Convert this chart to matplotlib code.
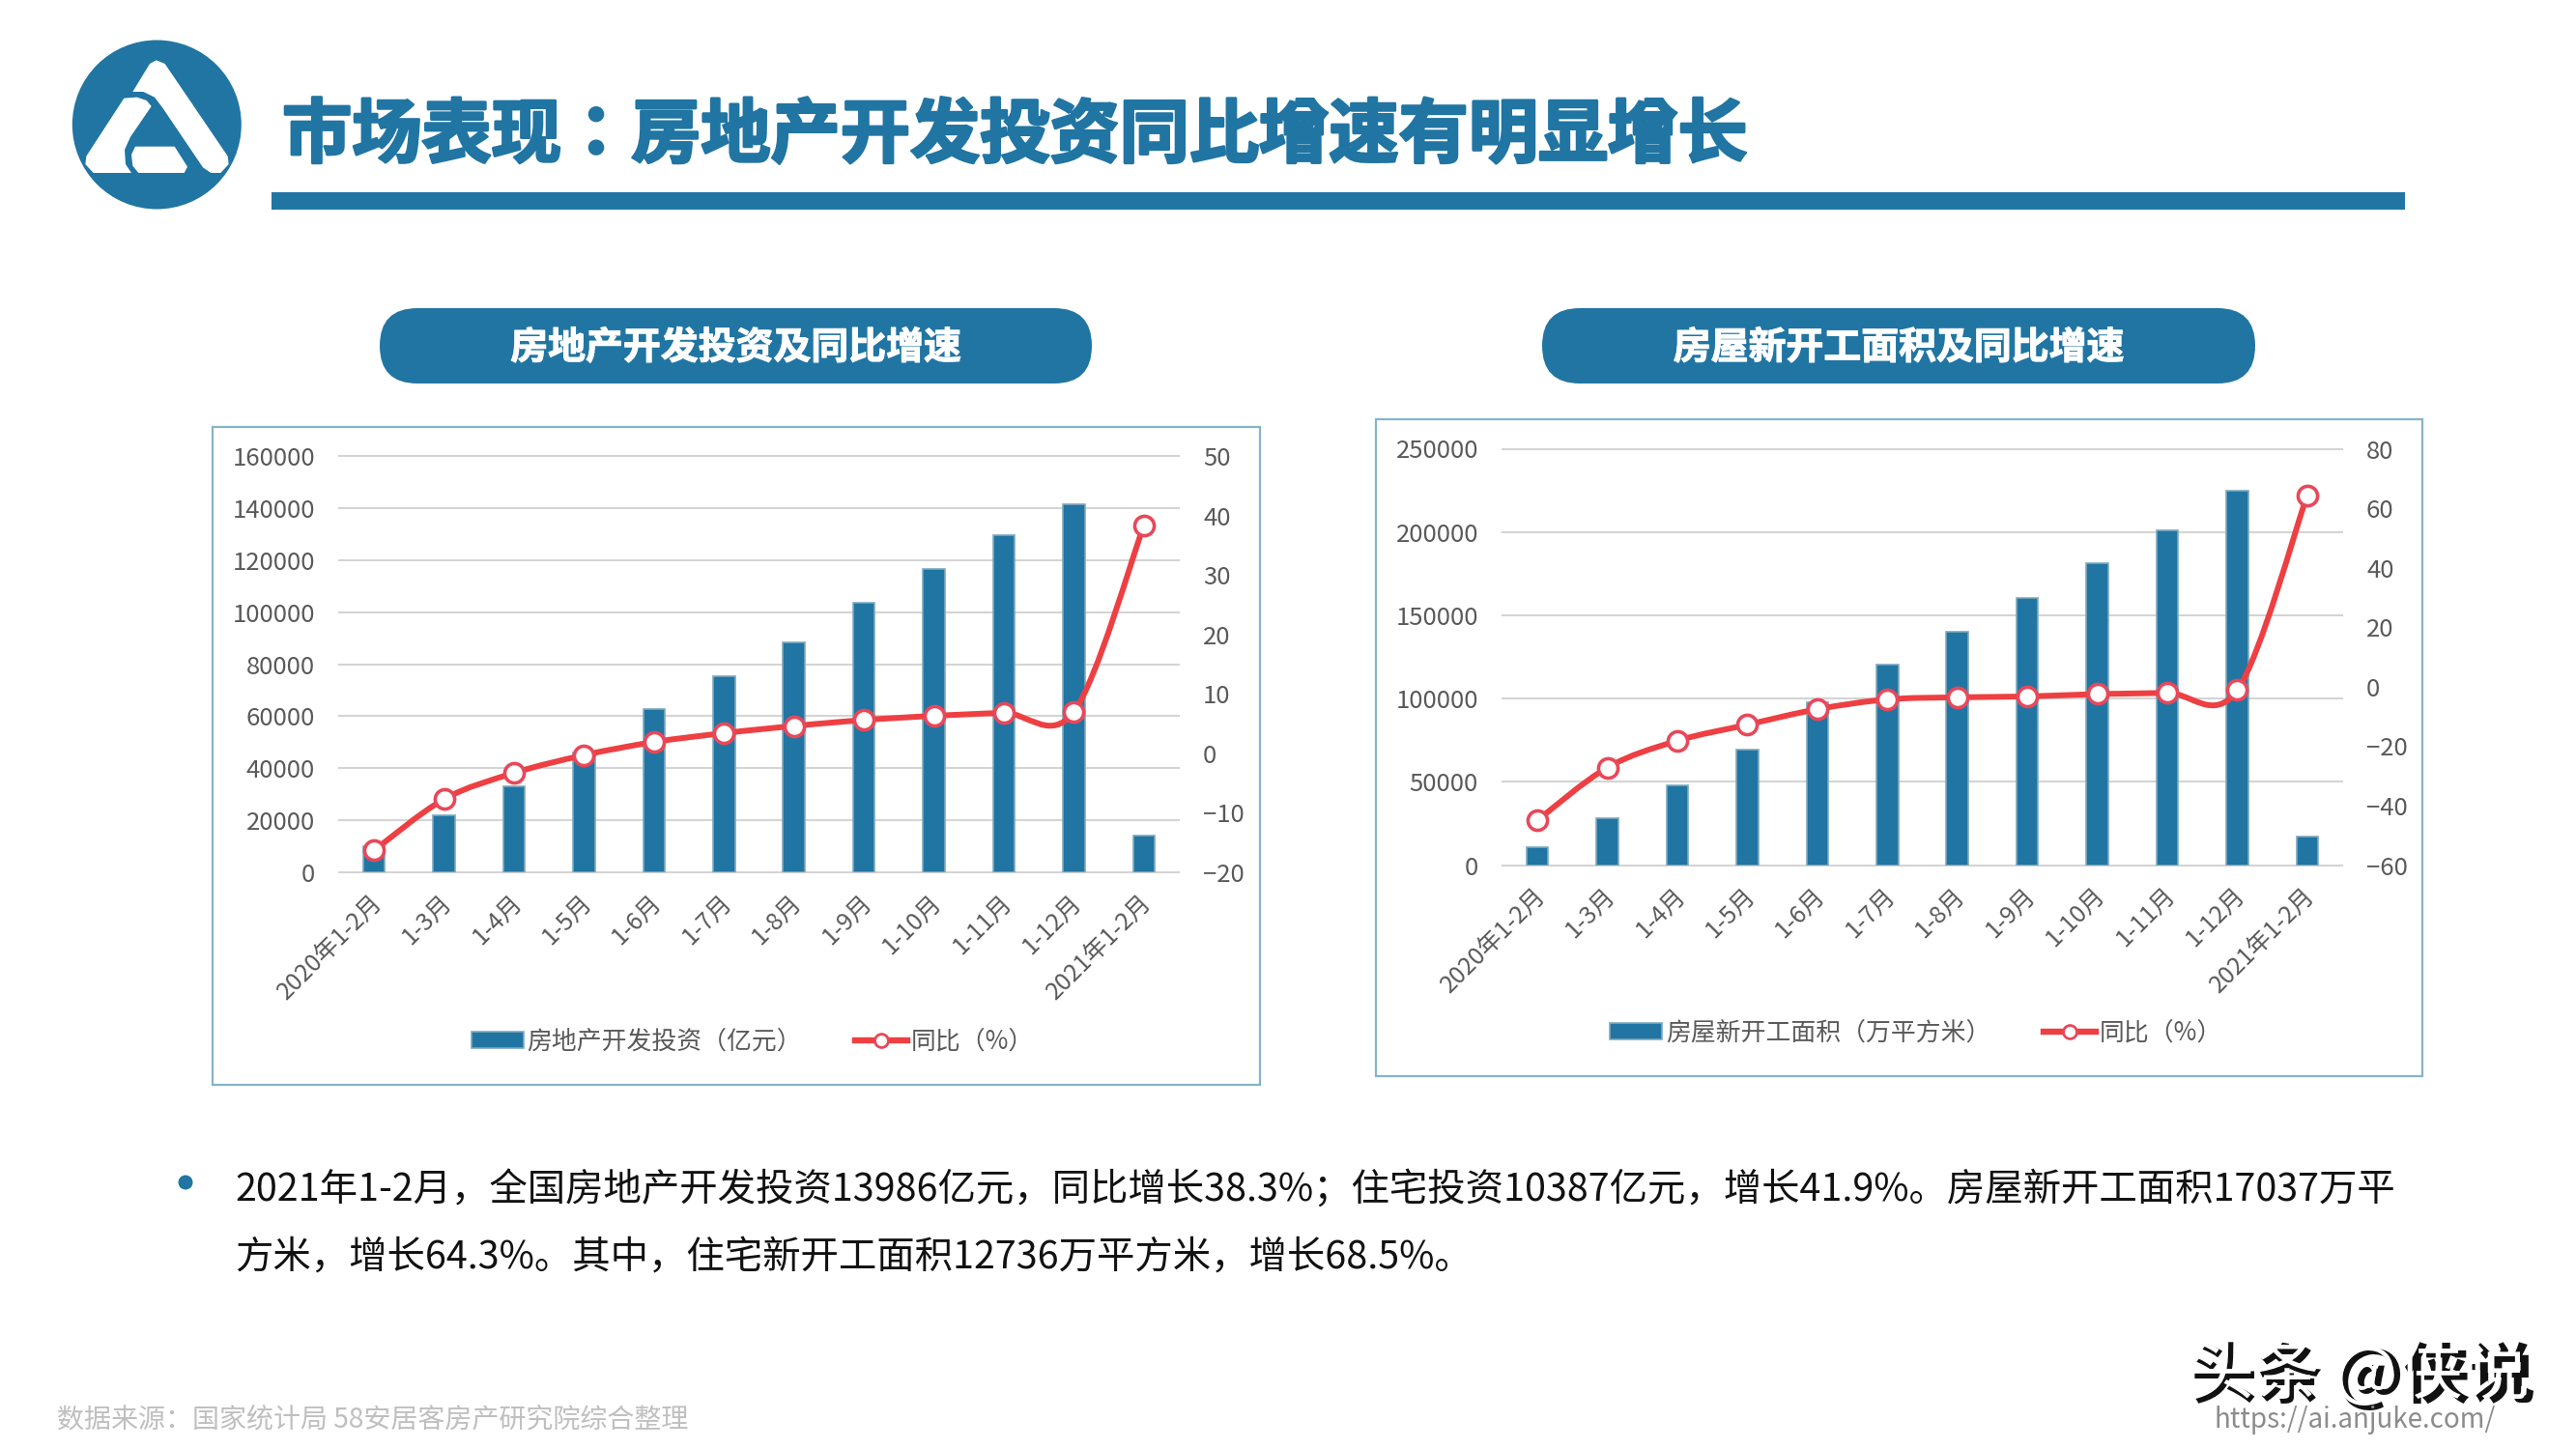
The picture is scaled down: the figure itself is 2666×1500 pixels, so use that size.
import numpy as np
from matplotlib import patheffects as pe
from matplotlib import pyplot as plt
from matplotlib.lines import Line2D
from matplotlib.patches import Circle, FancyBboxPatch, PathPatch, Patch, Polygon, Rectangle
from matplotlib.path import Path
from matplotlib.transforms import ScaledTranslation

plt.rcParams['font.family'] = ['Noto Sans CJK SC', 'DejaVu Sans']

months = ["2020年1-2月", "1-3月", "1-4月", "1-5月", "1-6月", "1-7月", "1-8月",
          "1-9月", "1-10月", "1-11月", "1-12月", "2021年1-2月"]

invest = [10115, 21963, 33103, 45920, 62780, 75325, 88454, 103484, 116693, 129492, 141443, 13986]
invest_yoy = [-16.3, -7.7, -3.3, -0.3, 1.9, 3.4, 4.6, 5.6, 6.3, 6.8, 7.0, 38.3]
invest_ticks = [0, 20000, 40000, 60000, 80000, 100000, 120000, 140000, 160000]
invest_yoy_ticks = [-20, -10, 0, 10, 20, 30, 40, 50]

starts = [10600, 28200, 48000, 69600, 97500, 120500, 140200, 160400, 181000, 201200, 224800, 17037]
starts_yoy = [-44.9, -27.2, -18.2, -12.8, -7.6, -4.3, -3.6, -3.3, -2.5, -2.1, -1.2, 64.3]
starts_ticks = [0, 50000, 100000, 150000, 200000, 250000]
starts_yoy_ticks = [-60, -40, -20, 0, 20, 40, 60, 80]

BLUE = "#2075A3"
RED = "#EE3F42"
W, H = 2666, 1500


def smooth_path(x, y):
    # excel style smoothed line, bezier segments through the data points
    pts = np.column_stack([x, y]).astype(float)
    verts = [pts[0]]
    codes = [Path.MOVETO]
    for i in range(len(pts) - 1):
        p0 = pts[max(i - 1, 0)]
        p1 = pts[i]
        p2 = pts[i + 1]
        p3 = pts[min(i + 2, len(pts) - 1)]
        verts += [p1 + (p2 - p0) / 6, p2 - (p3 - p1) / 6, p2]
        codes += [Path.CURVE4, Path.CURVE4, Path.CURVE4]
    return Path(verts, codes)


def combo_chart(box, frame, bars, yoy, ticks, yoy_ticks, bar_label, legend_xy):
    fx0, fy0, fx1, fy1 = frame
    bg.add_patch(Rectangle((fx0, fy0), fx1 - fx0, fy1 - fy0, fc="white", ec="#86B4C8", lw=1.6))

    x0, y0, x1, y1 = box
    ax = fig.add_axes([x0 / W, 1 - y1 / H, (x1 - x0) / W, (y1 - y0) / H])
    ax.patch.set_visible(False)
    x = np.arange(len(months))
    ax.bar(x, bars, width=0.31, color=BLUE, edgecolor="#7FA9BC", linewidth=1.2)
    ax.set_xlim(-0.5, 11.5)
    ax.set_ylim(ticks[0], ticks[-1])
    ax.set_yticks(ticks)
    ax.set_xticks(x)
    ax.set_xticklabels(months, rotation=45, ha="right", va="top", rotation_mode="anchor")
    ax.tick_params(axis="x", length=0, pad=13, labelsize=18, labelcolor="#595959")
    ax.tick_params(axis="y", length=0, pad=18, labelsize=18.5, labelcolor="#595959")
    # nudge the slanted labels a little left of the tick
    nudge = ScaledTranslation(-5 / 100, 0, fig.dpi_scale_trans)
    for lab in ax.get_xticklabels():
        lab.set_transform(lab.get_transform() + nudge)
    ax.set_axisbelow(True)
    ax.grid(axis="y", color="#D4D4D4", lw=1.5)
    for g in ax.get_ygridlines():
        g.set_clip_on(False)
    for s in ax.spines.values():
        s.set_visible(False)

    ax2 = ax.twinx()
    ax2.patch.set_visible(False)
    ax2.set_ylim(yoy_ticks[0], yoy_ticks[-1])
    ax2.set_yticks(yoy_ticks)
    ax2.tick_params(axis="y", length=0, pad=18, labelsize=18.5, labelcolor="#595959")
    for s in ax2.spines.values():
        s.set_visible(False)
    ax2.add_patch(PathPatch(smooth_path(x, yoy), fc="none", ec=RED, lw=4.3, capstyle="round"))
    ax2.plot(x, yoy, ls="none", marker="o", ms=14.5, mfc="white", mec="#E8485A", mew=2.6)

    handles = [
        Patch(fc=BLUE, ec="#7FA9BC", lw=1.2),
        Line2D([], [], color=RED, lw=4.6, marker="o", ms=10, mfc="white", mec="#E8485A", mew=2),
    ]
    fig.legend(handles, [bar_label, "同比（%）"], ncol=2, loc="center",
               bbox_to_anchor=(legend_xy[0] / W, 1 - legend_xy[1] / H),
               frameon=False, fontsize=18.6, labelcolor="#595959", borderpad=0,
               handlelength=2.1, handleheight=0.6, handletextpad=0.15, columnspacing=2.12)


fig = plt.figure(figsize=(W / 100, H / 100), dpi=100)

# whole page in pixel coordinates, for everything around the charts
bg = fig.add_axes([0, 0, 1, 1])
bg.set_xlim(0, W)
bg.set_ylim(H, 0)
bg.axis("off")

# logo
bg.add_patch(Circle((162.3, 129), 87.5, fc=BLUE, ec="none"))
logo_arm = [(285, 108), (305, 97), (332, 108), (527, 395), (530, 420), (505, 447), (475, 447),
            (450, 430), (325, 245), (300, 212), (265, 195), (232, 195)]
logo_left = [(205, 215), (245, 212), (275, 222), (290, 240), (225, 335), (207, 375), (210, 420),
             (228, 447), (110, 447), (85, 420), (88, 395)]
logo_mid = [(240, 365), (362, 365), (402, 428), (392, 447), (250, 447), (232, 425), (228, 390)]
for shape in [logo_arm, logo_left, logo_mid]:
    bg.add_patch(Polygon([(60 + a / 3, 30 + b / 3) for a, b in shape], fc="white", ec="none"))

# heading, JP face because its colon sits in the middle of the cell like the original
title = bg.text(292, 141, "市场表现：房地产开发投资同比增速有明显增长", fontsize=52, fontweight="bold",
                color=BLUE, ha="left", va="center", family=["Noto Sans CJK JP", "DejaVu Sans"])
title.set_path_effects([pe.withStroke(linewidth=2, foreground=BLUE)])
bg.add_patch(Rectangle((281, 199), 2489 - 281, 18, fc=BLUE, ec="none"))

for left, right, label in [(393, 1130, "房地产开发投资及同比增速"), (1596, 2334, "房屋新开工面积及同比增速")]:
    bg.add_patch(FancyBboxPatch((left + 39, 319 + 39), right - left - 78, 0, fc=BLUE, ec="none",
                                boxstyle="round,pad=39,rounding_size=39"))
    pill = bg.text((left + right) / 2, 360, label, fontsize=28, fontweight="bold", color="white",
                   ha="center", va="center")
    pill.set_path_effects([pe.withStroke(linewidth=0.8, foreground="white")])

combo_chart((351, 472, 1220, 903), (220, 442, 1304, 1123), invest, invest_yoy, invest_ticks,
            invest_yoy_ticks, "房地产开发投资（亿元）", (779, 1078))
combo_chart((1555, 464.5, 2424, 895.5), (1424, 434, 2507, 1114), starts, starts_yoy, starts_ticks,
            starts_yoy_ticks, "房屋新开工面积（万平方米）", (1983, 1069))

# notes under the charts
bg.add_patch(Circle((192, 1224), 7.5, fc=BLUE, ec="none"))
bg.text(243, 1232, "2021年1-2月，全国房地产开发投资13986亿元，同比增长38.3%；住宅投资10387亿元，增长41.9%。房屋新开工面积17037万平",
        fontsize=28.4, color="#111111", ha="left", va="center")
bg.text(243, 1302, "方米，增长64.3%。其中，住宅新开工面积12736万平方米，增长68.5%。",
        fontsize=28.4, color="#111111", ha="left", va="center")
bg.text(59, 1470, "数据来源：国家统计局 58安居客房产研究院综合整理", fontsize=20.2, color="#BFBFBF",
        ha="left", va="center")

# watermark
bg.text(2268, 1427, "头条 @侠说", fontsize=49, fontweight="bold", color="#111111", ha="left", va="center")
bg.text(2265, 1424, "头条 @侠说", fontsize=49, color="white", ha="left", va="center")
bg.text(2292, 1470, "https://ai.anjuke.com/", fontsize=20, color="#8C8C8C", ha="left", va="center")

fig.savefig("out.png", dpi=100)
